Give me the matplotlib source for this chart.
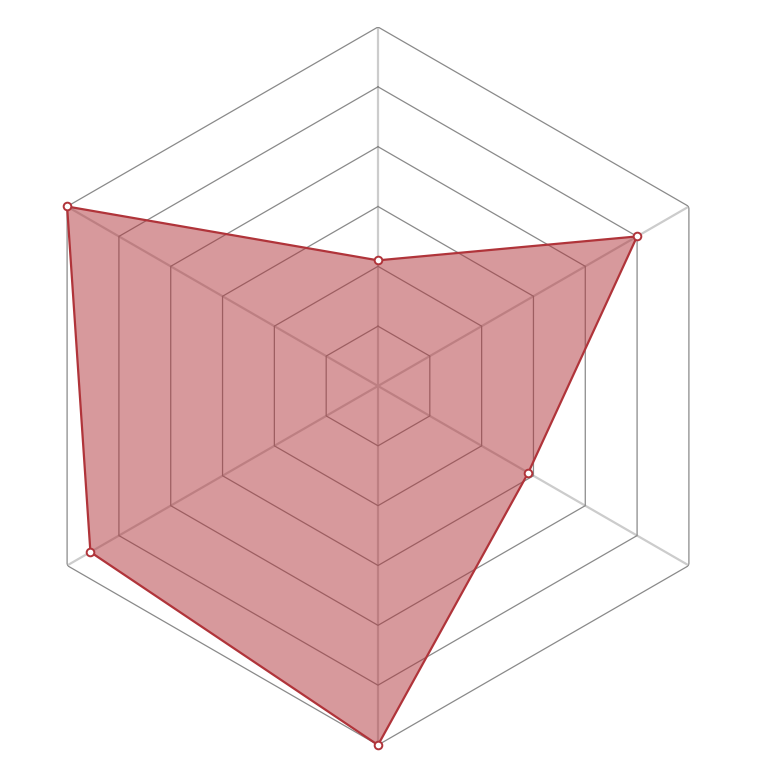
import numpy as np
import matplotlib
matplotlib.use("Agg")
import matplotlib.pyplot as plt

# Data (values in ring units, 6 rings)
indicators = ["A", "B", "C", "D", "E", "F"]  # top, upper-left, lower-left, bottom, lower-right, upper-right
values = [2.1, 6.0, 5.55, 6.0, 2.9, 5.0]
max_value = 6
n_rings = 6

line_color = "#b0343a"
ring_color = "#8a8a8a"
spoke_color = "#cccccc"

fig = plt.figure(figsize=(7.74, 7.74), dpi=100)
ax = fig.add_axes([19/774, 29/774, 718/774, 718/774], projection="polar")
ax.set_theta_offset(np.pi / 2)
ax.set_ylim(0, max_value)
ax.axis("off")

n = len(indicators)
angles = np.arange(n) * 2 * np.pi / n

# spokes
for a in angles:
    ax.plot([a, a], [0, max_value], color=spoke_color, lw=1.6, zorder=1, solid_capstyle="butt")

# rings
ring_angles = np.append(angles, angles[0])
for k in range(1, n_rings + 1):
    r = k * max_value / n_rings
    ax.plot(ring_angles, [r] * len(ring_angles), color=ring_color, lw=0.9, zorder=1)

# data polygon
va = np.append(values, values[0])
ax.fill(ring_angles, va, color=line_color, alpha=0.5, lw=0, zorder=2)
ax.plot(ring_angles, va, color=line_color, lw=1.6, zorder=3)
ax.plot(angles, values, ls="none", marker="o", ms=5.5, mfc="white", mec=line_color, mew=1.4, zorder=4, clip_on=False)

fig.savefig("out.png", dpi=100)
